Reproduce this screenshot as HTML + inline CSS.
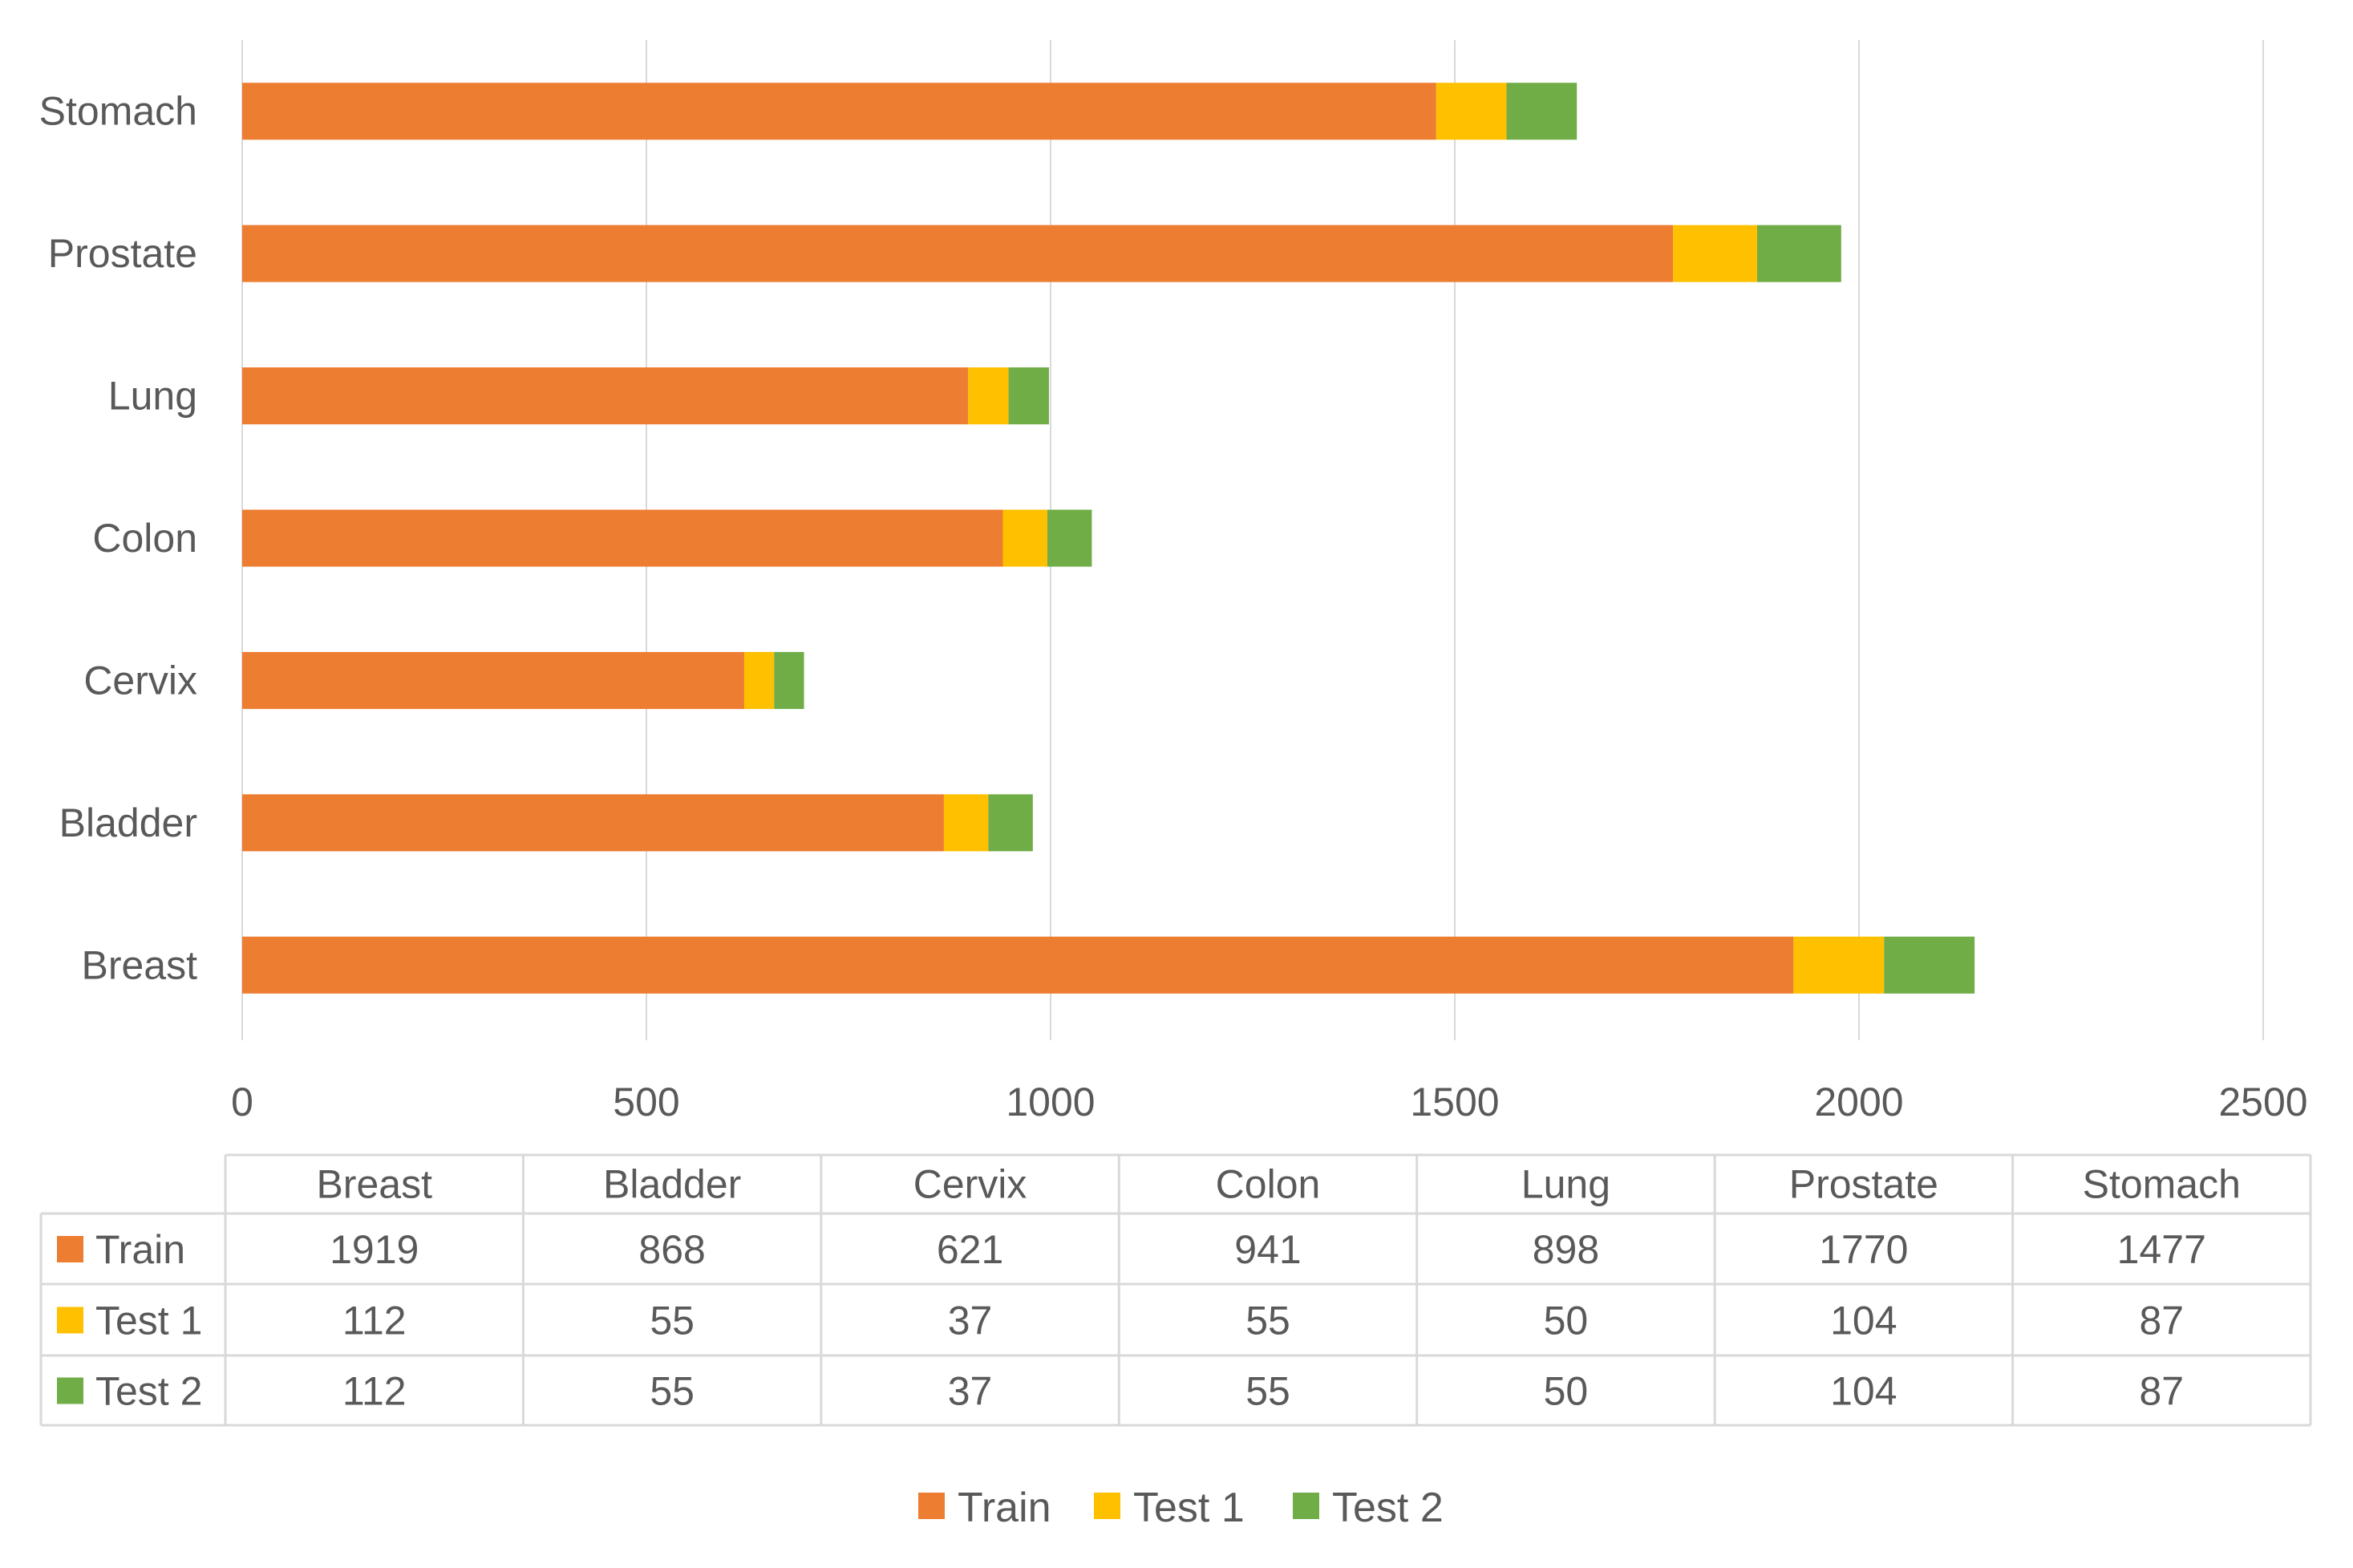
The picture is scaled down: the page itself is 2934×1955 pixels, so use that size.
<!DOCTYPE html>
<html><head><meta charset="utf-8"><style>
body{margin:0;background:#fff;}
svg{display:block;font-family:"Liberation Sans",sans-serif;fill:#595959;}
</style></head><body>
<svg id="chart" width="2934" height="1955" viewBox="0 0 2934 1955" xmlns="http://www.w3.org/2000/svg">
<g id="grid"></g><g id="bars"></g><g id="ylabels"></g><g id="xticks"></g><g id="table"></g><g id="legend"></g>
</svg>
<script>
const categories = ["Breast","Bladder","Cervix","Colon","Lung","Prostate","Stomach"];
const seriesNames = ["Train","Test 1","Test 2"];
const train = [1919,868,621,941,898,1770,1477];
const test1 = [112,55,37,55,50,104,87];
const test2 = [112,55,37,55,50,104,87];
const xTicks = [0,500,1000,1500,2000,2500];
const colors = ["#ED7D31","#FFC000","#70AD47"];
const series = [train,test1,test2];

const NS="http://www.w3.org/2000/svg";
const X0=302, X1=2822, XMAX=2500, YT=50, YB=1292;
const x=v=>X0+(v/XMAX)*(X1-X0);
const band=(YB-YT)/categories.length;
const yc=i=>YB-band*(i+0.5);
function mk(tag,attrs,parent){const e=document.createElementNS(NS,tag);for(const k in attrs)e.setAttribute(k,attrs[k]);parent.appendChild(e);return e;}
const G=id=>document.getElementById(id);

xTicks.forEach(t=>{
  const l=mk('line',{x1:x(t),x2:x(t),y1:YT,y2:1297,stroke:'#d9d9d9','stroke-width':2},G('grid'));
  
  
  const tx=mk('text',{x:x(t),y:1391,'font-size':50,'text-anchor':'middle'},G('xticks'));
  tx.textContent=t;
  
  
});
const bh=71;
categories.forEach((c,i)=>{
  let acc=0;
  series.forEach((s,j)=>{
    const r=mk('rect',{x:x(acc),y:yc(i)-bh/2,width:x(acc+s[i])-x(acc),height:bh,fill:colors[j]},G('bars'));
    
    
    acc+=s[i];
  });
  const t=mk('text',{x:246,y:yc(i)+17,'font-size':50,'text-anchor':'end'},G('ylabels'));
  t.textContent=c;
  
  
});
// data table
const TL=51, TC=281, TR=2881, colW=(TR-TC)/categories.length;
const rows=[1440,1513,1601,1690,1777];
const tb=G('table');
const ls={stroke:'#d9d9d9','stroke-width':3};
mk('line',Object.assign({x1:TC,x2:TR,y1:rows[0],y2:rows[0]},ls),tb);
for(let r=1;r<rows.length;r++)mk('line',Object.assign({x1:TL,x2:TR,y1:rows[r],y2:rows[r]},ls),tb);
mk('line',Object.assign({x1:TL,x2:TL,y1:rows[1],y2:rows[4]},ls),tb);
for(let k=0;k<=categories.length;k++)mk('line',Object.assign({x1:TC+k*colW,x2:TC+k*colW,y1:rows[0],y2:rows[4]},ls),tb);
categories.forEach((c,i)=>{
  const t=mk('text',{x:TC+colW*(i+0.5),y:(rows[0]+rows[1])/2+17,'font-size':50,'text-anchor':'middle'},tb);
  t.textContent=c;
  
  
});
series.forEach((s,j)=>{
  const cy=(rows[j+1]+rows[j+2])/2;
  const sq=mk('rect',{x:71,y:cy-16,width:33,height:33,fill:colors[j]},tb);
  
  
  const lt=mk('text',{x:119,y:cy+18,'font-size':50},tb);
  lt.textContent=seriesNames[j];
  
  
  s.forEach((v,i)=>{
    const t=mk('text',{x:TC+colW*(i+0.5),y:cy+18,'font-size':50,'text-anchor':'middle'},tb);
    t.textContent=v;
    
    
  });
});
// legend
const lx=[1145,1364,1612];
seriesNames.forEach((n,j)=>{
  const g=mk('g',{},G('legend'));
  
  
  mk('rect',{x:lx[j],y:1861,width:33,height:33,fill:colors[j]},g);
  const t=mk('text',{x:lx[j]+49,y:1897,'font-size':52},g);
  t.textContent=n;
});
</script>
</body></html>
